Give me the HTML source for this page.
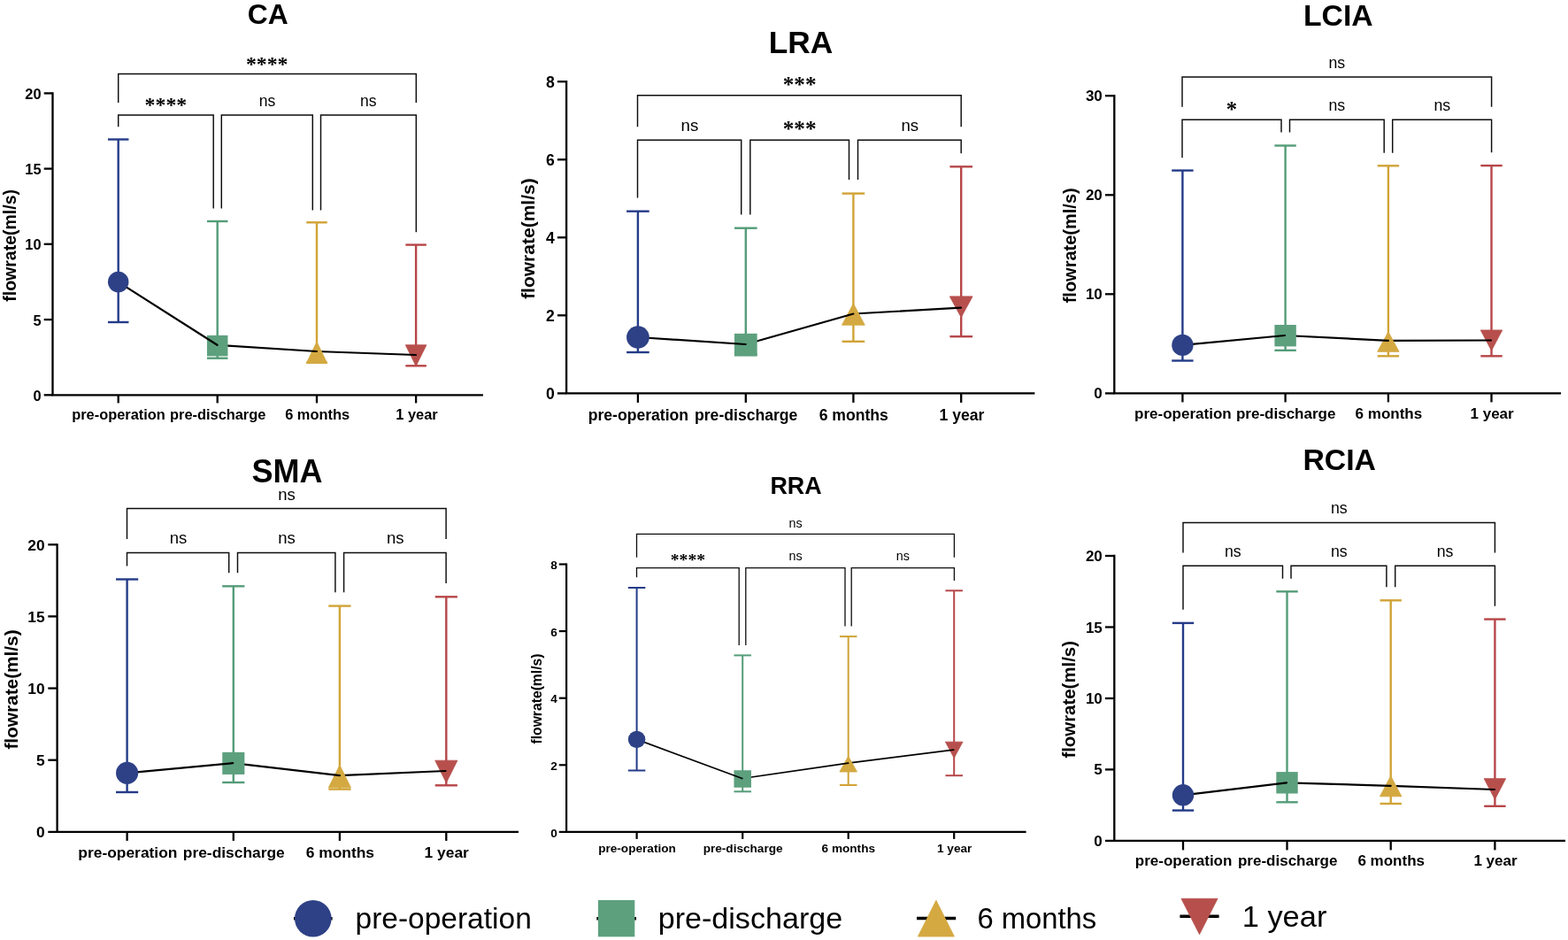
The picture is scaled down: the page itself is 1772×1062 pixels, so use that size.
<!DOCTYPE html>
<html lang="en"><head><meta charset="utf-8"><title>Flowrate by vessel over follow-up</title>
<style>html,body{margin:0;padding:0;background:#fff}body{width:1772px;height:1062px;overflow:hidden}svg{display:block}text{white-space:pre}</style>
</head><body>
<svg width="1772" height="1062" viewBox="0 0 1772 1062">
<rect x="0" y="0" width="1772" height="1062" fill="#fff"/>
<g>
<path d="M133.7 116V83.4H470.3V116" fill="none" stroke="#0d0d0d" stroke-width="1.45"/>
<path d="M133.7 143.3V130H241.2V235.4" fill="none" stroke="#0d0d0d" stroke-width="1.45"/>
<path d="M250.3 235.4V130H353.3V237.4" fill="none" stroke="#0d0d0d" stroke-width="1.45"/>
<path d="M362.5 237.4V130H470.3V262.3" fill="none" stroke="#0d0d0d" stroke-width="1.45"/>
<line x1="470.1" y1="276.6" x2="470.1" y2="413.3" stroke="#b64649" stroke-width="2.4"/>
<line x1="458.35" y1="276.6" x2="481.85" y2="276.6" stroke="#b64649" stroke-width="2.4"/>
<line x1="458.35" y1="413.3" x2="481.85" y2="413.3" stroke="#b64649" stroke-width="2.4"/>
<path d="M458.35 389.8H481.85L470.1 413.5Z" fill="#b7504d" stroke="#b7504d" stroke-width="0.9"/>
<line x1="358" y1="397" x2="470" y2="401" stroke="#000" stroke-width="2.2" stroke-linecap="round"/>
<line x1="358" y1="251.3" x2="358" y2="409.6" stroke="#d1a336" stroke-width="2.4"/>
<line x1="346.25" y1="251.3" x2="369.75" y2="251.3" stroke="#d1a336" stroke-width="2.4"/>
<line x1="346.25" y1="409.6" x2="369.75" y2="409.6" stroke="#d1a336" stroke-width="2.4"/>
<path d="M358 386.2L369.75 410.4H346.25Z" fill="#d4a941" stroke="#d4a941" stroke-width="0.9"/>
<line x1="245.5" y1="389.8" x2="358" y2="397" stroke="#000" stroke-width="2.2" stroke-linecap="round"/>
<line x1="245.7" y1="250" x2="245.7" y2="404.7" stroke="#549c78" stroke-width="2.4"/>
<line x1="233.95" y1="250" x2="257.45" y2="250" stroke="#549c78" stroke-width="2.4"/>
<line x1="233.95" y1="404.7" x2="257.45" y2="404.7" stroke="#549c78" stroke-width="2.4"/>
<rect x="233.95" y="378.85" width="23.5" height="23.5" fill="#5da07e"/>
<line x1="133.7" y1="318.6" x2="245.5" y2="389.8" stroke="#000" stroke-width="2.2" stroke-linecap="round"/>
<line x1="133.7" y1="157.5" x2="133.7" y2="364" stroke="#243b88" stroke-width="2.4"/>
<line x1="121.95" y1="157.5" x2="145.45" y2="157.5" stroke="#243b88" stroke-width="2.4"/>
<line x1="121.95" y1="364" x2="145.45" y2="364" stroke="#243b88" stroke-width="2.4"/>
<circle cx="133.7" cy="318.6" r="11.75" fill="#2e4186"/>
<path d="M59.5 105.4V446.3H544.75" fill="none" stroke="#000" stroke-width="2.3" stroke-linecap="square" stroke-linejoin="miter"/>
<line x1="49.7" y1="105.4" x2="59.5" y2="105.4" stroke="#000" stroke-width="2.3"/>
<text x="46.6" y="111.97" font-size="16.4" font-weight="bold" text-anchor="end" style="font-family:&quot;Liberation Sans&quot;, Arial, Helvetica, sans-serif" fill="#000">20</text>
<line x1="49.7" y1="190.6" x2="59.5" y2="190.6" stroke="#000" stroke-width="2.3"/>
<text x="46.6" y="197.17" font-size="16.4" font-weight="bold" text-anchor="end" style="font-family:&quot;Liberation Sans&quot;, Arial, Helvetica, sans-serif" fill="#000">15</text>
<line x1="49.7" y1="275.8" x2="59.5" y2="275.8" stroke="#000" stroke-width="2.3"/>
<text x="46.6" y="282.37" font-size="16.4" font-weight="bold" text-anchor="end" style="font-family:&quot;Liberation Sans&quot;, Arial, Helvetica, sans-serif" fill="#000">10</text>
<line x1="49.7" y1="361.1" x2="59.5" y2="361.1" stroke="#000" stroke-width="2.3"/>
<text x="46.6" y="367.67" font-size="16.4" font-weight="bold" text-anchor="end" style="font-family:&quot;Liberation Sans&quot;, Arial, Helvetica, sans-serif" fill="#000">5</text>
<line x1="49.7" y1="446.3" x2="59.5" y2="446.3" stroke="#000" stroke-width="2.3"/>
<text x="46.6" y="452.87" font-size="16.4" font-weight="bold" text-anchor="end" style="font-family:&quot;Liberation Sans&quot;, Arial, Helvetica, sans-serif" fill="#000">0</text>
<line x1="133.7" y1="446.3" x2="133.7" y2="455.4" stroke="#000" stroke-width="2.3"/>
<text x="134" y="474.3" font-size="16.4" font-weight="bold" text-anchor="middle" style="font-family:&quot;Liberation Sans&quot;, Arial, Helvetica, sans-serif" fill="#000">pre-operation</text>
<line x1="245.7" y1="446.3" x2="245.7" y2="455.4" stroke="#000" stroke-width="2.3"/>
<text x="246.2" y="474.3" font-size="16.4" font-weight="bold" text-anchor="middle" style="font-family:&quot;Liberation Sans&quot;, Arial, Helvetica, sans-serif" fill="#000">pre-discharge</text>
<line x1="358" y1="446.3" x2="358" y2="455.4" stroke="#000" stroke-width="2.3"/>
<text x="358.6" y="474.3" font-size="16.4" font-weight="bold" text-anchor="middle" style="font-family:&quot;Liberation Sans&quot;, Arial, Helvetica, sans-serif" fill="#000">6 months</text>
<line x1="470.1" y1="446.3" x2="470.1" y2="455.4" stroke="#000" stroke-width="2.3"/>
<text x="471" y="474.3" font-size="16.4" font-weight="bold" text-anchor="middle" style="font-family:&quot;Liberation Sans&quot;, Arial, Helvetica, sans-serif" fill="#000">1 year</text>
<text x="17.9" y="277.4" font-size="19.5" font-weight="bold" text-anchor="middle" style="font-family:&quot;Liberation Sans&quot;, Arial, Helvetica, sans-serif" fill="#000" transform="rotate(-90 17.9 277.4)">flowrate(ml/s)</text>
<text x="302.8" y="27.4" font-size="31.8" font-weight="bold" text-anchor="middle" style="font-family:&quot;Liberation Sans&quot;, Arial, Helvetica, sans-serif" fill="#000">CA</text>
<text x="301.7" y="79.8" font-size="23.8" font-weight="bold" text-anchor="middle" style="font-family:&quot;Liberation Serif&quot;, &quot;Times New Roman&quot;, serif" fill="#000">****</text>
<text x="187.4" y="125.6" font-size="23.8" font-weight="bold" text-anchor="middle" style="font-family:&quot;Liberation Serif&quot;, &quot;Times New Roman&quot;, serif" fill="#000">****</text>
<text x="302" y="119.7" font-size="17.5" text-anchor="middle" style="font-family:&quot;Liberation Sans&quot;, Arial, Helvetica, sans-serif" fill="#000">ns</text>
<text x="416.2" y="119.7" font-size="17.5" text-anchor="middle" style="font-family:&quot;Liberation Sans&quot;, Arial, Helvetica, sans-serif" fill="#000">ns</text>
</g>
<g>
<path d="M720.5 143.3V107.8H1086.2V143.3" fill="none" stroke="#0d0d0d" stroke-width="1.45"/>
<path d="M720.5 223.4V158.3H837.7V242.4" fill="none" stroke="#0d0d0d" stroke-width="1.45"/>
<path d="M847.8 242.4V158.3H959.5V202.9" fill="none" stroke="#0d0d0d" stroke-width="1.45"/>
<path d="M969.5 202.9V158.3H1086.2V173.3" fill="none" stroke="#0d0d0d" stroke-width="1.45"/>
<line x1="1086.2" y1="188.3" x2="1086.2" y2="380.2" stroke="#b64649" stroke-width="2.4"/>
<line x1="1073.4" y1="188.3" x2="1099" y2="188.3" stroke="#b64649" stroke-width="2.4"/>
<line x1="1073.4" y1="380.2" x2="1099" y2="380.2" stroke="#b64649" stroke-width="2.4"/>
<path d="M1073.35 334.9H1099.05L1086.2 358.5Z" fill="#b7504d" stroke="#b7504d" stroke-width="0.9"/>
<line x1="964.4" y1="354.5" x2="1086" y2="347.7" stroke="#000" stroke-width="2.2" stroke-linecap="round"/>
<line x1="964.4" y1="218.6" x2="964.4" y2="385.8" stroke="#d1a336" stroke-width="2.4"/>
<line x1="951.6" y1="218.6" x2="977.2" y2="218.6" stroke="#d1a336" stroke-width="2.4"/>
<line x1="951.6" y1="385.8" x2="977.2" y2="385.8" stroke="#d1a336" stroke-width="2.4"/>
<path d="M964.4 342.9L977.25 367.2H951.55Z" fill="#d4a941" stroke="#d4a941" stroke-width="0.9"/>
<line x1="842.7" y1="389" x2="964.4" y2="354.5" stroke="#000" stroke-width="2.2" stroke-linecap="round"/>
<line x1="842.8" y1="257.7" x2="842.8" y2="400.5" stroke="#549c78" stroke-width="2.4"/>
<line x1="830" y1="257.7" x2="855.6" y2="257.7" stroke="#549c78" stroke-width="2.4"/>
<line x1="830" y1="400.5" x2="855.6" y2="400.5" stroke="#549c78" stroke-width="2.4"/>
<rect x="829.95" y="376.85" width="25.7" height="25.7" fill="#5da07e"/>
<line x1="720.9" y1="381" x2="842.7" y2="389" stroke="#000" stroke-width="2.2" stroke-linecap="round"/>
<line x1="720.9" y1="238.7" x2="720.9" y2="398" stroke="#243b88" stroke-width="2.4"/>
<line x1="708.1" y1="238.7" x2="733.7" y2="238.7" stroke="#243b88" stroke-width="2.4"/>
<line x1="708.1" y1="398" x2="733.7" y2="398" stroke="#243b88" stroke-width="2.4"/>
<circle cx="720.9" cy="381" r="12.85" fill="#2e4186"/>
<path d="M640.1 92.2V444.4H1168.25" fill="none" stroke="#000" stroke-width="2.3" stroke-linecap="square" stroke-linejoin="miter"/>
<line x1="629.9" y1="92.2" x2="640.1" y2="92.2" stroke="#000" stroke-width="2.3"/>
<text x="626.7" y="98.5" font-size="17.6" font-weight="bold" text-anchor="end" style="font-family:&quot;Liberation Sans&quot;, Arial, Helvetica, sans-serif" fill="#000">8</text>
<line x1="629.9" y1="180.3" x2="640.1" y2="180.3" stroke="#000" stroke-width="2.3"/>
<text x="626.7" y="186.6" font-size="17.6" font-weight="bold" text-anchor="end" style="font-family:&quot;Liberation Sans&quot;, Arial, Helvetica, sans-serif" fill="#000">6</text>
<line x1="629.9" y1="268.3" x2="640.1" y2="268.3" stroke="#000" stroke-width="2.3"/>
<text x="626.7" y="274.6" font-size="17.6" font-weight="bold" text-anchor="end" style="font-family:&quot;Liberation Sans&quot;, Arial, Helvetica, sans-serif" fill="#000">4</text>
<line x1="629.9" y1="356.3" x2="640.1" y2="356.3" stroke="#000" stroke-width="2.3"/>
<text x="626.7" y="362.6" font-size="17.6" font-weight="bold" text-anchor="end" style="font-family:&quot;Liberation Sans&quot;, Arial, Helvetica, sans-serif" fill="#000">2</text>
<line x1="629.9" y1="444.4" x2="640.1" y2="444.4" stroke="#000" stroke-width="2.3"/>
<text x="626.7" y="450.7" font-size="17.6" font-weight="bold" text-anchor="end" style="font-family:&quot;Liberation Sans&quot;, Arial, Helvetica, sans-serif" fill="#000">0</text>
<line x1="720.9" y1="444.4" x2="720.9" y2="454.9" stroke="#000" stroke-width="2.3"/>
<text x="721.4" y="474.8" font-size="17.6" font-weight="bold" text-anchor="middle" style="font-family:&quot;Liberation Sans&quot;, Arial, Helvetica, sans-serif" fill="#000">pre-operation</text>
<line x1="842.8" y1="444.4" x2="842.8" y2="454.9" stroke="#000" stroke-width="2.3"/>
<text x="843.2" y="474.8" font-size="17.6" font-weight="bold" text-anchor="middle" style="font-family:&quot;Liberation Sans&quot;, Arial, Helvetica, sans-serif" fill="#000">pre-discharge</text>
<line x1="964.4" y1="444.4" x2="964.4" y2="454.9" stroke="#000" stroke-width="2.3"/>
<text x="964.8" y="474.8" font-size="17.6" font-weight="bold" text-anchor="middle" style="font-family:&quot;Liberation Sans&quot;, Arial, Helvetica, sans-serif" fill="#000">6 months</text>
<line x1="1086.2" y1="444.4" x2="1086.2" y2="454.9" stroke="#000" stroke-width="2.3"/>
<text x="1087" y="474.8" font-size="17.6" font-weight="bold" text-anchor="middle" style="font-family:&quot;Liberation Sans&quot;, Arial, Helvetica, sans-serif" fill="#000">1 year</text>
<text x="604.1" y="269.6" font-size="21" font-weight="bold" text-anchor="middle" style="font-family:&quot;Liberation Sans&quot;, Arial, Helvetica, sans-serif" fill="#000" transform="rotate(-90 604.1 269.6)">flowrate(ml/s)</text>
<text x="905.1" y="59.8" font-size="35.3" font-weight="bold" text-anchor="middle" style="font-family:&quot;Liberation Sans&quot;, Arial, Helvetica, sans-serif" fill="#000">LRA</text>
<text x="903.6" y="103.8" font-size="25.2" font-weight="bold" text-anchor="middle" style="font-family:&quot;Liberation Serif&quot;, &quot;Times New Roman&quot;, serif" fill="#000">***</text>
<text x="779.4" y="147.8" font-size="18.6" text-anchor="middle" style="font-family:&quot;Liberation Sans&quot;, Arial, Helvetica, sans-serif" fill="#000">ns</text>
<text x="903.6" y="154" font-size="25.2" font-weight="bold" text-anchor="middle" style="font-family:&quot;Liberation Serif&quot;, &quot;Times New Roman&quot;, serif" fill="#000">***</text>
<text x="1028.3" y="147.8" font-size="18.6" text-anchor="middle" style="font-family:&quot;Liberation Sans&quot;, Arial, Helvetica, sans-serif" fill="#000">ns</text>
</g>
<g>
<path d="M1336 120.7V86.9H1685.6V120.7" fill="none" stroke="#0d0d0d" stroke-width="1.45"/>
<path d="M1336 178.3V135.2H1448V149.5" fill="none" stroke="#0d0d0d" stroke-width="1.45"/>
<path d="M1457.5 149.5V135.2H1564.2V172.8" fill="none" stroke="#0d0d0d" stroke-width="1.45"/>
<path d="M1573.7 172.8V135.2H1685.6V172.3" fill="none" stroke="#0d0d0d" stroke-width="1.45"/>
<line x1="1685.5" y1="187.1" x2="1685.5" y2="402.3" stroke="#b64649" stroke-width="2.4"/>
<line x1="1673.3" y1="187.1" x2="1697.7" y2="187.1" stroke="#b64649" stroke-width="2.4"/>
<line x1="1673.3" y1="402.3" x2="1697.7" y2="402.3" stroke="#b64649" stroke-width="2.4"/>
<path d="M1673.3 373H1697.7L1685.5 396.1Z" fill="#b7504d" stroke="#b7504d" stroke-width="0.9"/>
<line x1="1568.9" y1="384.8" x2="1685" y2="384.5" stroke="#000" stroke-width="2.2" stroke-linecap="round"/>
<line x1="1568.9" y1="187.3" x2="1568.9" y2="402.3" stroke="#d1a336" stroke-width="2.4"/>
<line x1="1556.7" y1="187.3" x2="1581.1" y2="187.3" stroke="#d1a336" stroke-width="2.4"/>
<line x1="1556.7" y1="402.3" x2="1581.1" y2="402.3" stroke="#d1a336" stroke-width="2.4"/>
<path d="M1568.9 374.9L1581.1 397.3H1556.7Z" fill="#d4a941" stroke="#d4a941" stroke-width="0.9"/>
<line x1="1452" y1="379" x2="1568.9" y2="384.8" stroke="#000" stroke-width="2.2" stroke-linecap="round"/>
<line x1="1452.6" y1="164.5" x2="1452.6" y2="395.8" stroke="#549c78" stroke-width="2.4"/>
<line x1="1440.4" y1="164.5" x2="1464.8" y2="164.5" stroke="#549c78" stroke-width="2.4"/>
<line x1="1440.4" y1="395.8" x2="1464.8" y2="395.8" stroke="#549c78" stroke-width="2.4"/>
<rect x="1440.4" y="367" width="24.4" height="24.4" fill="#5da07e"/>
<line x1="1336.4" y1="389.9" x2="1452" y2="379" stroke="#000" stroke-width="2.2" stroke-linecap="round"/>
<line x1="1336.4" y1="192.6" x2="1336.4" y2="407.5" stroke="#243b88" stroke-width="2.4"/>
<line x1="1324.2" y1="192.6" x2="1348.6" y2="192.6" stroke="#243b88" stroke-width="2.4"/>
<line x1="1324.2" y1="407.5" x2="1348.6" y2="407.5" stroke="#243b88" stroke-width="2.4"/>
<circle cx="1336.4" cy="389.9" r="12.2" fill="#2e4186"/>
<path d="M1259.3 108.2V444.4H1762.85" fill="none" stroke="#000" stroke-width="2.3" stroke-linecap="square" stroke-linejoin="miter"/>
<line x1="1248.9" y1="108.2" x2="1259.3" y2="108.2" stroke="#000" stroke-width="2.3"/>
<text x="1245.8" y="114.29" font-size="17" font-weight="bold" text-anchor="end" style="font-family:&quot;Liberation Sans&quot;, Arial, Helvetica, sans-serif" fill="#000">30</text>
<line x1="1248.9" y1="220.3" x2="1259.3" y2="220.3" stroke="#000" stroke-width="2.3"/>
<text x="1245.8" y="226.39" font-size="17" font-weight="bold" text-anchor="end" style="font-family:&quot;Liberation Sans&quot;, Arial, Helvetica, sans-serif" fill="#000">20</text>
<line x1="1248.9" y1="332.3" x2="1259.3" y2="332.3" stroke="#000" stroke-width="2.3"/>
<text x="1245.8" y="338.39" font-size="17" font-weight="bold" text-anchor="end" style="font-family:&quot;Liberation Sans&quot;, Arial, Helvetica, sans-serif" fill="#000">10</text>
<line x1="1248.9" y1="444.4" x2="1259.3" y2="444.4" stroke="#000" stroke-width="2.3"/>
<text x="1245.8" y="450.49" font-size="17" font-weight="bold" text-anchor="end" style="font-family:&quot;Liberation Sans&quot;, Arial, Helvetica, sans-serif" fill="#000">0</text>
<line x1="1336.4" y1="444.4" x2="1336.4" y2="454.4" stroke="#000" stroke-width="2.3"/>
<text x="1336.9" y="472.9" font-size="17" font-weight="bold" text-anchor="middle" style="font-family:&quot;Liberation Sans&quot;, Arial, Helvetica, sans-serif" fill="#000">pre-operation</text>
<line x1="1452.6" y1="444.4" x2="1452.6" y2="454.4" stroke="#000" stroke-width="2.3"/>
<text x="1453.2" y="472.9" font-size="17" font-weight="bold" text-anchor="middle" style="font-family:&quot;Liberation Sans&quot;, Arial, Helvetica, sans-serif" fill="#000">pre-discharge</text>
<line x1="1568.9" y1="444.4" x2="1568.9" y2="454.4" stroke="#000" stroke-width="2.3"/>
<text x="1569.4" y="472.9" font-size="17" font-weight="bold" text-anchor="middle" style="font-family:&quot;Liberation Sans&quot;, Arial, Helvetica, sans-serif" fill="#000">6 months</text>
<line x1="1685.5" y1="444.4" x2="1685.5" y2="454.4" stroke="#000" stroke-width="2.3"/>
<text x="1686.1" y="472.9" font-size="17" font-weight="bold" text-anchor="middle" style="font-family:&quot;Liberation Sans&quot;, Arial, Helvetica, sans-serif" fill="#000">1 year</text>
<text x="1216" y="277.3" font-size="20" font-weight="bold" text-anchor="middle" style="font-family:&quot;Liberation Sans&quot;, Arial, Helvetica, sans-serif" fill="#000" transform="rotate(-90 1216 277.3)">flowrate(ml/s)</text>
<text x="1512.3" y="28.7" font-size="33.7" font-weight="bold" text-anchor="middle" style="font-family:&quot;Liberation Sans&quot;, Arial, Helvetica, sans-serif" fill="#000">LCIA</text>
<text x="1510.8" y="76.6" font-size="17.7" text-anchor="middle" style="font-family:&quot;Liberation Sans&quot;, Arial, Helvetica, sans-serif" fill="#000">ns</text>
<text x="1392" y="132.4" font-size="24.6" font-weight="bold" text-anchor="middle" style="font-family:&quot;Liberation Serif&quot;, &quot;Times New Roman&quot;, serif" fill="#000">*</text>
<text x="1510.8" y="124.7" font-size="17.7" text-anchor="middle" style="font-family:&quot;Liberation Sans&quot;, Arial, Helvetica, sans-serif" fill="#000">ns</text>
<text x="1629.8" y="124.7" font-size="17.7" text-anchor="middle" style="font-family:&quot;Liberation Sans&quot;, Arial, Helvetica, sans-serif" fill="#000">ns</text>
</g>
<g>
<path d="M143.5 608.9V574.4H504.1V608.9" fill="none" stroke="#0d0d0d" stroke-width="1.45"/>
<path d="M143.5 639.5V624.5H258.7V647.3" fill="none" stroke="#0d0d0d" stroke-width="1.45"/>
<path d="M268.5 647.3V624.5H378.9V669.3" fill="none" stroke="#0d0d0d" stroke-width="1.45"/>
<path d="M388.6 669.3V624.5H504.1V659" fill="none" stroke="#0d0d0d" stroke-width="1.45"/>
<line x1="504.3" y1="674.3" x2="504.3" y2="887.3" stroke="#b64649" stroke-width="2.4"/>
<line x1="491.7" y1="674.3" x2="516.9" y2="674.3" stroke="#b64649" stroke-width="2.4"/>
<line x1="491.7" y1="887.3" x2="516.9" y2="887.3" stroke="#b64649" stroke-width="2.4"/>
<path d="M491.75 859.2H516.85L504.3 884.3Z" fill="#b7504d" stroke="#b7504d" stroke-width="0.9"/>
<line x1="383.9" y1="876.2" x2="503.5" y2="871" stroke="#000" stroke-width="2.2" stroke-linecap="round"/>
<line x1="383.9" y1="684.6" x2="383.9" y2="891.6" stroke="#d1a336" stroke-width="2.4"/>
<line x1="371.3" y1="684.6" x2="396.5" y2="684.6" stroke="#d1a336" stroke-width="2.4"/>
<line x1="371.3" y1="891.6" x2="396.5" y2="891.6" stroke="#d1a336" stroke-width="2.4"/>
<path d="M383.9 864.4L396.45 889.8H371.35Z" fill="#d4a941" stroke="#d4a941" stroke-width="0.9"/>
<line x1="263.2" y1="862.2" x2="383.9" y2="876.2" stroke="#000" stroke-width="2.2" stroke-linecap="round"/>
<line x1="263.8" y1="662.3" x2="263.8" y2="884" stroke="#549c78" stroke-width="2.4"/>
<line x1="251.2" y1="662.3" x2="276.4" y2="662.3" stroke="#549c78" stroke-width="2.4"/>
<line x1="251.2" y1="884" x2="276.4" y2="884" stroke="#549c78" stroke-width="2.4"/>
<rect x="251.25" y="849.85" width="25.1" height="25.1" fill="#5da07e"/>
<line x1="143.6" y1="873.4" x2="263.2" y2="862.2" stroke="#000" stroke-width="2.2" stroke-linecap="round"/>
<line x1="143.6" y1="654.5" x2="143.6" y2="895" stroke="#243b88" stroke-width="2.4"/>
<line x1="131" y1="654.5" x2="156.2" y2="654.5" stroke="#243b88" stroke-width="2.4"/>
<line x1="131" y1="895" x2="156.2" y2="895" stroke="#243b88" stroke-width="2.4"/>
<circle cx="143.6" cy="873.4" r="12.55" fill="#2e4186"/>
<path d="M64.6 615.3V939.9H584.85" fill="none" stroke="#000" stroke-width="2.3" stroke-linecap="square" stroke-linejoin="miter"/>
<line x1="54.3" y1="615.3" x2="64.6" y2="615.3" stroke="#000" stroke-width="2.3"/>
<text x="50.7" y="621.53" font-size="17.4" font-weight="bold" text-anchor="end" style="font-family:&quot;Liberation Sans&quot;, Arial, Helvetica, sans-serif" fill="#000">20</text>
<line x1="54.3" y1="696.4" x2="64.6" y2="696.4" stroke="#000" stroke-width="2.3"/>
<text x="50.7" y="702.63" font-size="17.4" font-weight="bold" text-anchor="end" style="font-family:&quot;Liberation Sans&quot;, Arial, Helvetica, sans-serif" fill="#000">15</text>
<line x1="54.3" y1="777.6" x2="64.6" y2="777.6" stroke="#000" stroke-width="2.3"/>
<text x="50.7" y="783.83" font-size="17.4" font-weight="bold" text-anchor="end" style="font-family:&quot;Liberation Sans&quot;, Arial, Helvetica, sans-serif" fill="#000">10</text>
<line x1="54.3" y1="858.7" x2="64.6" y2="858.7" stroke="#000" stroke-width="2.3"/>
<text x="50.7" y="864.93" font-size="17.4" font-weight="bold" text-anchor="end" style="font-family:&quot;Liberation Sans&quot;, Arial, Helvetica, sans-serif" fill="#000">5</text>
<line x1="54.3" y1="939.9" x2="64.6" y2="939.9" stroke="#000" stroke-width="2.3"/>
<text x="50.7" y="946.13" font-size="17.4" font-weight="bold" text-anchor="end" style="font-family:&quot;Liberation Sans&quot;, Arial, Helvetica, sans-serif" fill="#000">0</text>
<line x1="143.6" y1="939.9" x2="143.6" y2="949.9" stroke="#000" stroke-width="2.3"/>
<text x="144.4" y="969.3" font-size="17.4" font-weight="bold" text-anchor="middle" style="font-family:&quot;Liberation Sans&quot;, Arial, Helvetica, sans-serif" fill="#000">pre-operation</text>
<line x1="263.8" y1="939.9" x2="263.8" y2="949.9" stroke="#000" stroke-width="2.3"/>
<text x="264.3" y="969.3" font-size="17.4" font-weight="bold" text-anchor="middle" style="font-family:&quot;Liberation Sans&quot;, Arial, Helvetica, sans-serif" fill="#000">pre-discharge</text>
<line x1="383.9" y1="939.9" x2="383.9" y2="949.9" stroke="#000" stroke-width="2.3"/>
<text x="384.4" y="969.3" font-size="17.4" font-weight="bold" text-anchor="middle" style="font-family:&quot;Liberation Sans&quot;, Arial, Helvetica, sans-serif" fill="#000">6 months</text>
<line x1="504.3" y1="939.9" x2="504.3" y2="949.9" stroke="#000" stroke-width="2.3"/>
<text x="504.7" y="969.3" font-size="17.4" font-weight="bold" text-anchor="middle" style="font-family:&quot;Liberation Sans&quot;, Arial, Helvetica, sans-serif" fill="#000">1 year</text>
<text x="19.8" y="779" font-size="20.8" font-weight="bold" text-anchor="middle" style="font-family:&quot;Liberation Sans&quot;, Arial, Helvetica, sans-serif" fill="#000" transform="rotate(-90 19.8 779)">flowrate(ml/s)</text>
<text x="324.6" y="545.4" font-size="36" font-weight="bold" text-anchor="middle" style="font-family:&quot;Liberation Sans&quot;, Arial, Helvetica, sans-serif" fill="#000">SMA</text>
<text x="324" y="564.6" font-size="18.5" text-anchor="middle" style="font-family:&quot;Liberation Sans&quot;, Arial, Helvetica, sans-serif" fill="#000">ns</text>
<text x="201.4" y="614" font-size="18.5" text-anchor="middle" style="font-family:&quot;Liberation Sans&quot;, Arial, Helvetica, sans-serif" fill="#000">ns</text>
<text x="324.1" y="614" font-size="18.5" text-anchor="middle" style="font-family:&quot;Liberation Sans&quot;, Arial, Helvetica, sans-serif" fill="#000">ns</text>
<text x="446.8" y="614" font-size="18.5" text-anchor="middle" style="font-family:&quot;Liberation Sans&quot;, Arial, Helvetica, sans-serif" fill="#000">ns</text>
</g>
<g>
<path d="M719.5 629.7V603.4H1078.4V629.7" fill="none" stroke="#0d0d0d" stroke-width="1.3"/>
<path d="M719.5 652.3V641.7H835.2V728.9" fill="none" stroke="#0d0d0d" stroke-width="1.3"/>
<path d="M842.8 728.9V641.7H955V707.4" fill="none" stroke="#0d0d0d" stroke-width="1.3"/>
<path d="M962.2 707.4V641.7H1078.4V656" fill="none" stroke="#0d0d0d" stroke-width="1.3"/>
<line x1="1078.2" y1="667.3" x2="1078.2" y2="876.2" stroke="#b64649" stroke-width="2"/>
<line x1="1068.45" y1="667.3" x2="1087.95" y2="667.3" stroke="#b64649" stroke-width="2"/>
<line x1="1068.45" y1="876.2" x2="1087.95" y2="876.2" stroke="#b64649" stroke-width="2"/>
<path d="M1068.45 838.2H1087.95L1078.2 856.3Z" fill="#b7504d" stroke="#b7504d" stroke-width="0.9"/>
<line x1="958.7" y1="862.2" x2="1077.7" y2="847.2" stroke="#000" stroke-width="1.7" stroke-linecap="round"/>
<line x1="958.7" y1="719.1" x2="958.7" y2="887" stroke="#d1a336" stroke-width="2"/>
<line x1="948.95" y1="719.1" x2="968.45" y2="719.1" stroke="#d1a336" stroke-width="2"/>
<line x1="948.95" y1="887" x2="968.45" y2="887" stroke="#d1a336" stroke-width="2"/>
<path d="M958.7 854.4L968.45 872H948.95Z" fill="#d4a941" stroke="#d4a941" stroke-width="0.9"/>
<line x1="838.8" y1="879.5" x2="958.7" y2="862.2" stroke="#000" stroke-width="1.7" stroke-linecap="round"/>
<line x1="839.2" y1="740.4" x2="839.2" y2="894.3" stroke="#549c78" stroke-width="2"/>
<line x1="829.45" y1="740.4" x2="848.95" y2="740.4" stroke="#549c78" stroke-width="2"/>
<line x1="829.45" y1="894.3" x2="848.95" y2="894.3" stroke="#549c78" stroke-width="2"/>
<rect x="829.45" y="870.25" width="19.5" height="19.5" fill="#5da07e"/>
<line x1="719.6" y1="835.4" x2="838.8" y2="879.5" stroke="#000" stroke-width="1.7" stroke-linecap="round"/>
<line x1="719.6" y1="664" x2="719.6" y2="870.5" stroke="#243b88" stroke-width="2"/>
<line x1="709.85" y1="664" x2="729.35" y2="664" stroke="#243b88" stroke-width="2"/>
<line x1="709.85" y1="870.5" x2="729.35" y2="870.5" stroke="#243b88" stroke-width="2"/>
<circle cx="719.6" cy="835.4" r="9.75" fill="#2e4186"/>
<path d="M640.1 637.5V939.9H1158.5" fill="none" stroke="#000" stroke-width="2.2" stroke-linecap="square" stroke-linejoin="miter"/>
<line x1="631.8" y1="637.5" x2="640.1" y2="637.5" stroke="#000" stroke-width="2.2"/>
<text x="629.8" y="643.17" font-size="13.6" font-weight="bold" text-anchor="end" style="font-family:&quot;Liberation Sans&quot;, Arial, Helvetica, sans-serif" fill="#000">8</text>
<line x1="631.8" y1="713.1" x2="640.1" y2="713.1" stroke="#000" stroke-width="2.2"/>
<text x="629.8" y="718.77" font-size="13.6" font-weight="bold" text-anchor="end" style="font-family:&quot;Liberation Sans&quot;, Arial, Helvetica, sans-serif" fill="#000">6</text>
<line x1="631.8" y1="788.7" x2="640.1" y2="788.7" stroke="#000" stroke-width="2.2"/>
<text x="629.8" y="794.37" font-size="13.6" font-weight="bold" text-anchor="end" style="font-family:&quot;Liberation Sans&quot;, Arial, Helvetica, sans-serif" fill="#000">4</text>
<line x1="631.8" y1="864.3" x2="640.1" y2="864.3" stroke="#000" stroke-width="2.2"/>
<text x="629.8" y="869.97" font-size="13.6" font-weight="bold" text-anchor="end" style="font-family:&quot;Liberation Sans&quot;, Arial, Helvetica, sans-serif" fill="#000">2</text>
<line x1="631.8" y1="939.9" x2="640.1" y2="939.9" stroke="#000" stroke-width="2.2"/>
<text x="629.8" y="945.57" font-size="13.6" font-weight="bold" text-anchor="end" style="font-family:&quot;Liberation Sans&quot;, Arial, Helvetica, sans-serif" fill="#000">0</text>
<line x1="719.6" y1="939.9" x2="719.6" y2="947.9" stroke="#000" stroke-width="2.2"/>
<text x="720" y="962.7" font-size="13.6" font-weight="bold" text-anchor="middle" style="font-family:&quot;Liberation Sans&quot;, Arial, Helvetica, sans-serif" fill="#000">pre-operation</text>
<line x1="839.2" y1="939.9" x2="839.2" y2="947.9" stroke="#000" stroke-width="2.2"/>
<text x="839.6" y="962.7" font-size="13.6" font-weight="bold" text-anchor="middle" style="font-family:&quot;Liberation Sans&quot;, Arial, Helvetica, sans-serif" fill="#000">pre-discharge</text>
<line x1="958.7" y1="939.9" x2="958.7" y2="947.9" stroke="#000" stroke-width="2.2"/>
<text x="958.8" y="962.7" font-size="13.6" font-weight="bold" text-anchor="middle" style="font-family:&quot;Liberation Sans&quot;, Arial, Helvetica, sans-serif" fill="#000">6 months</text>
<line x1="1078.2" y1="939.9" x2="1078.2" y2="947.9" stroke="#000" stroke-width="2.2"/>
<text x="1078.7" y="962.7" font-size="13.6" font-weight="bold" text-anchor="middle" style="font-family:&quot;Liberation Sans&quot;, Arial, Helvetica, sans-serif" fill="#000">1 year</text>
<text x="612.2" y="789.5" font-size="15.7" font-weight="bold" text-anchor="middle" style="font-family:&quot;Liberation Sans&quot;, Arial, Helvetica, sans-serif" fill="#000" transform="rotate(-90 612.2 789.5)">flowrate(ml/s)</text>
<text x="899.6" y="558.1" font-size="26.9" font-weight="bold" text-anchor="middle" style="font-family:&quot;Liberation Sans&quot;, Arial, Helvetica, sans-serif" fill="#000">RRA</text>
<text x="899.1" y="595.7" font-size="14.3" text-anchor="middle" style="font-family:&quot;Liberation Sans&quot;, Arial, Helvetica, sans-serif" fill="#000">ns</text>
<text x="777.4" y="639.2" font-size="19.6" font-weight="bold" text-anchor="middle" style="font-family:&quot;Liberation Serif&quot;, &quot;Times New Roman&quot;, serif" fill="#000">****</text>
<text x="899.1" y="633.2" font-size="14.3" text-anchor="middle" style="font-family:&quot;Liberation Sans&quot;, Arial, Helvetica, sans-serif" fill="#000">ns</text>
<text x="1020.4" y="633.2" font-size="14.3" text-anchor="middle" style="font-family:&quot;Liberation Sans&quot;, Arial, Helvetica, sans-serif" fill="#000">ns</text>
</g>
<g>
<path d="M1337 624.5V590.4H1689.4V624.5" fill="none" stroke="#0d0d0d" stroke-width="1.45"/>
<path d="M1337 688.8V639.2H1449.5V653.8" fill="none" stroke="#0d0d0d" stroke-width="1.45"/>
<path d="M1459 653.8V639.2H1566.9V663.3" fill="none" stroke="#0d0d0d" stroke-width="1.45"/>
<path d="M1576.7 663.3V639.2H1689.4V684.8" fill="none" stroke="#0d0d0d" stroke-width="1.45"/>
<line x1="1689.4" y1="699.6" x2="1689.4" y2="910.8" stroke="#b64649" stroke-width="2.4"/>
<line x1="1677.2" y1="699.6" x2="1701.6" y2="699.6" stroke="#b64649" stroke-width="2.4"/>
<line x1="1677.2" y1="910.8" x2="1701.6" y2="910.8" stroke="#b64649" stroke-width="2.4"/>
<path d="M1677.2 879.7H1701.6L1689.4 903.1Z" fill="#b7504d" stroke="#b7504d" stroke-width="0.9"/>
<line x1="1571.7" y1="887.8" x2="1689" y2="892" stroke="#000" stroke-width="2.2" stroke-linecap="round"/>
<line x1="1571.7" y1="678.3" x2="1571.7" y2="908" stroke="#d1a336" stroke-width="2.4"/>
<line x1="1559.5" y1="678.3" x2="1583.9" y2="678.3" stroke="#d1a336" stroke-width="2.4"/>
<line x1="1559.5" y1="908" x2="1583.9" y2="908" stroke="#d1a336" stroke-width="2.4"/>
<path d="M1571.7 876.7L1583.9 899.8H1559.5Z" fill="#d4a941" stroke="#d4a941" stroke-width="0.9"/>
<line x1="1454" y1="884.3" x2="1571.7" y2="887.8" stroke="#000" stroke-width="2.2" stroke-linecap="round"/>
<line x1="1454.5" y1="668.3" x2="1454.5" y2="906.3" stroke="#549c78" stroke-width="2.4"/>
<line x1="1442.3" y1="668.3" x2="1466.7" y2="668.3" stroke="#549c78" stroke-width="2.4"/>
<line x1="1442.3" y1="906.3" x2="1466.7" y2="906.3" stroke="#549c78" stroke-width="2.4"/>
<rect x="1442.3" y="872.1" width="24.4" height="24.4" fill="#5da07e"/>
<line x1="1337" y1="898.3" x2="1454" y2="884.3" stroke="#000" stroke-width="2.2" stroke-linecap="round"/>
<line x1="1337" y1="703.9" x2="1337" y2="915.6" stroke="#243b88" stroke-width="2.4"/>
<line x1="1324.8" y1="703.9" x2="1349.2" y2="703.9" stroke="#243b88" stroke-width="2.4"/>
<line x1="1324.8" y1="915.6" x2="1349.2" y2="915.6" stroke="#243b88" stroke-width="2.4"/>
<circle cx="1337" cy="898.3" r="12.2" fill="#2e4186"/>
<path d="M1259.3 628V949.9H1767.85" fill="none" stroke="#000" stroke-width="2.3" stroke-linecap="square" stroke-linejoin="miter"/>
<line x1="1248.9" y1="628" x2="1259.3" y2="628" stroke="#000" stroke-width="2.3"/>
<text x="1245.8" y="634.09" font-size="17" font-weight="bold" text-anchor="end" style="font-family:&quot;Liberation Sans&quot;, Arial, Helvetica, sans-serif" fill="#000">20</text>
<line x1="1248.9" y1="708.5" x2="1259.3" y2="708.5" stroke="#000" stroke-width="2.3"/>
<text x="1245.8" y="714.59" font-size="17" font-weight="bold" text-anchor="end" style="font-family:&quot;Liberation Sans&quot;, Arial, Helvetica, sans-serif" fill="#000">15</text>
<line x1="1248.9" y1="789" x2="1259.3" y2="789" stroke="#000" stroke-width="2.3"/>
<text x="1245.8" y="795.09" font-size="17" font-weight="bold" text-anchor="end" style="font-family:&quot;Liberation Sans&quot;, Arial, Helvetica, sans-serif" fill="#000">10</text>
<line x1="1248.9" y1="869.4" x2="1259.3" y2="869.4" stroke="#000" stroke-width="2.3"/>
<text x="1245.8" y="875.49" font-size="17" font-weight="bold" text-anchor="end" style="font-family:&quot;Liberation Sans&quot;, Arial, Helvetica, sans-serif" fill="#000">5</text>
<line x1="1248.9" y1="949.9" x2="1259.3" y2="949.9" stroke="#000" stroke-width="2.3"/>
<text x="1245.8" y="955.99" font-size="17" font-weight="bold" text-anchor="end" style="font-family:&quot;Liberation Sans&quot;, Arial, Helvetica, sans-serif" fill="#000">0</text>
<line x1="1337" y1="949.9" x2="1337" y2="960.4" stroke="#000" stroke-width="2.3"/>
<text x="1337.6" y="978.4" font-size="17" font-weight="bold" text-anchor="middle" style="font-family:&quot;Liberation Sans&quot;, Arial, Helvetica, sans-serif" fill="#000">pre-operation</text>
<line x1="1454.5" y1="949.9" x2="1454.5" y2="960.4" stroke="#000" stroke-width="2.3"/>
<text x="1455.2" y="978.4" font-size="17" font-weight="bold" text-anchor="middle" style="font-family:&quot;Liberation Sans&quot;, Arial, Helvetica, sans-serif" fill="#000">pre-discharge</text>
<line x1="1571.7" y1="949.9" x2="1571.7" y2="960.4" stroke="#000" stroke-width="2.3"/>
<text x="1572.2" y="978.4" font-size="17" font-weight="bold" text-anchor="middle" style="font-family:&quot;Liberation Sans&quot;, Arial, Helvetica, sans-serif" fill="#000">6 months</text>
<line x1="1689.4" y1="949.9" x2="1689.4" y2="960.4" stroke="#000" stroke-width="2.3"/>
<text x="1690" y="978.4" font-size="17" font-weight="bold" text-anchor="middle" style="font-family:&quot;Liberation Sans&quot;, Arial, Helvetica, sans-serif" fill="#000">1 year</text>
<text x="1215.4" y="790.3" font-size="20.4" font-weight="bold" text-anchor="middle" style="font-family:&quot;Liberation Sans&quot;, Arial, Helvetica, sans-serif" fill="#000" transform="rotate(-90 1215.4 790.3)">flowrate(ml/s)</text>
<text x="1513.7" y="530.9" font-size="33.8" font-weight="bold" text-anchor="middle" style="font-family:&quot;Liberation Sans&quot;, Arial, Helvetica, sans-serif" fill="#000">RCIA</text>
<text x="1513.3" y="580.1" font-size="17.7" text-anchor="middle" style="font-family:&quot;Liberation Sans&quot;, Arial, Helvetica, sans-serif" fill="#000">ns</text>
<text x="1393.3" y="629" font-size="17.7" text-anchor="middle" style="font-family:&quot;Liberation Sans&quot;, Arial, Helvetica, sans-serif" fill="#000">ns</text>
<text x="1513.3" y="629" font-size="17.7" text-anchor="middle" style="font-family:&quot;Liberation Sans&quot;, Arial, Helvetica, sans-serif" fill="#000">ns</text>
<text x="1633" y="629" font-size="17.7" text-anchor="middle" style="font-family:&quot;Liberation Sans&quot;, Arial, Helvetica, sans-serif" fill="#000">ns</text>
</g>
<g>
<line x1="332" y1="1037.7" x2="375.6" y2="1037.7" stroke="#000" stroke-width="3.6"/>
<circle cx="353.8" cy="1037.7" r="20.8" fill="#2e4186"/>
<text x="401.5" y="1049" font-size="33.5" text-anchor="start" style="font-family:&quot;Liberation Sans&quot;, Arial, Helvetica, sans-serif" fill="#000">pre-operation</text>
<line x1="674.3" y1="1037.7" x2="719" y2="1037.7" stroke="#000" stroke-width="3.6"/>
<rect x="675.9" y="1016.95" width="41.4" height="41.4" fill="#5da07e"/>
<text x="743.7" y="1049" font-size="33.5" text-anchor="start" style="font-family:&quot;Liberation Sans&quot;, Arial, Helvetica, sans-serif" fill="#000" textLength="208.5" lengthAdjust="spacingAndGlyphs">pre-discharge</text>
<line x1="1036" y1="1037.5" x2="1080.2" y2="1037.5" stroke="#000" stroke-width="3.6"/>
<path d="M1057.9 1017.3L1078.35 1058H1037.45Z" fill="#d4a941" stroke="#d4a941" stroke-width="0.9"/>
<text x="1104.4" y="1048.5" font-size="33.5" text-anchor="start" style="font-family:&quot;Liberation Sans&quot;, Arial, Helvetica, sans-serif" fill="#000" textLength="134.8" lengthAdjust="spacingAndGlyphs">6 months</text>
<line x1="1333.4" y1="1035.2" x2="1377.6" y2="1035.2" stroke="#000" stroke-width="3.6"/>
<path d="M1335.05 1015.3H1375.95L1355.5 1055.6Z" fill="#b7504d" stroke="#b7504d" stroke-width="0.9"/>
<text x="1403.7" y="1046.5" font-size="33.5" text-anchor="start" style="font-family:&quot;Liberation Sans&quot;, Arial, Helvetica, sans-serif" fill="#000" textLength="95.7" lengthAdjust="spacingAndGlyphs">1 year</text>
</g>
</svg>
</body></html>
